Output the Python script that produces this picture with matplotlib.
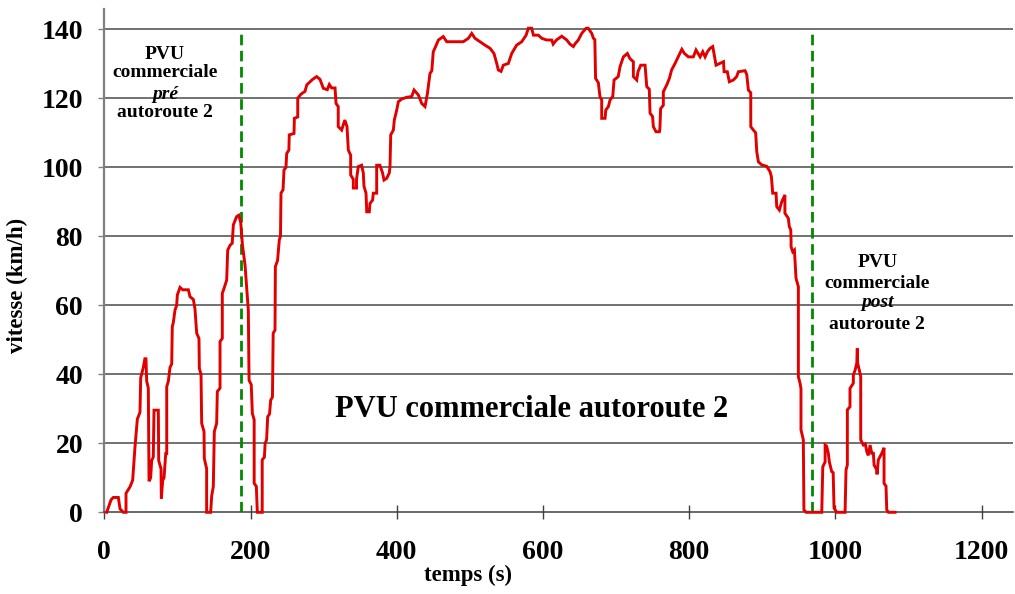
import matplotlib
matplotlib.use("Agg")
import matplotlib.pyplot as plt

# ---- data ----
time_s = [3.3, 9.2, 12.3, 19.2, 21.5, 26, 29.7, 29.7, 35.2, 38.8, 42, 45.2, 48.8, 49.8, 53.4, 55.5, 57, 58,
          60.2, 61.2, 63.4, 64.8, 67, 68, 73.9, 74.4, 77.6, 78, 79.9, 81.7, 84, 85.4, 85.4, 87.6, 89.9, 92.2,
          93, 94.4, 96.7, 99, 99.9, 103.6, 107.2, 115, 117.2, 121.8, 124, 126.4, 129.5, 130, 132.3, 133.2,
          136.4, 136.8, 140, 140, 145.5, 146.9, 149.1, 150.5, 153.7, 154.6, 158.3, 158.3, 161.4, 161.4, 163,
          167.4, 168.8, 172, 175, 176.5, 181, 184, 186.6, 189, 192.5, 197, 198, 201, 202.5, 205, 205, 208,
          209.3, 216, 216, 219, 220, 222, 223.5, 226, 227.6, 230, 231, 233.5, 234, 237, 239.4, 241, 241.7,
          244.5, 245.8, 248.5, 249.5, 252.5, 253, 259.5, 260, 264.6, 264.6, 269, 274.5, 277, 281.5, 285,
          290.5, 295, 299.6, 305, 307.8, 311, 315.6, 317, 320, 320, 324.7, 329, 332, 333.8, 337, 337, 340.6,
          340.6, 345, 345, 347.4, 351.9, 354.3, 355.2, 358, 359, 362.5, 363.4, 367, 368, 372.6, 372.6, 377,
          380.6, 382.6, 386.3, 389.9, 390.8, 391.8, 395.4, 396.7, 400, 402.2, 406.8, 413.7, 420.5, 423.7,
          429.5, 434.2, 438.7, 442, 445.5, 448, 450, 453, 457, 463.7, 468.4, 491, 498, 502.6, 507, 514,
          520.8, 527.6, 533, 536.8, 539, 542.7, 545.8, 552.7, 557.3, 564, 571, 577, 580, 584.6, 587, 593.7,
          598.3, 605, 612, 614, 618.5, 625.7, 632.6, 637, 641.6, 644, 648.4, 653, 659, 662, 666.8, 669, 671,
          672, 675.8, 678, 680.4, 680.4, 685, 686, 689.5, 691.8, 695.5, 697.3, 703, 705.5, 710, 715.5, 719,
          723.7, 723.7, 728.3, 730, 733.8, 739.7, 742, 745.5, 746.5, 750, 751, 754.7, 759.3, 760, 761,
          764.7, 764.7, 769.4, 773, 776, 780.7, 785, 790, 793.5, 799, 805.7, 809.4, 815, 818.6, 821.8, 825,
          828.6, 832.3, 834, 836.8, 842, 847, 847.8, 852.2, 855, 860.5, 865, 867.3, 876.5, 878.8, 881,
          884.3, 884.3, 887.8, 891, 892.5, 894.7, 899.3, 906, 910.7, 912.5, 914.3, 918.9, 919.8, 923.4,
          926.6, 931, 931, 935.7, 937, 939, 939.4, 939.4, 941.7, 944, 946.2, 949.4, 949.4, 951.7, 953, 953,
          956.2, 957, 960, 981.4, 982.8, 986, 986, 988, 990.4, 991.8, 995, 997, 998.2, 1002, 1013.3, 1014.6,
          1016.4, 1016.4, 1020, 1020, 1024.6, 1024.6, 1027, 1029.3, 1030, 1030.5, 1032.8, 1034.7, 1034.7,
          1038.3, 1041, 1043, 1045, 1047.5, 1049.8, 1052, 1053, 1056.6, 1057, 1058.8, 1063.5, 1066.6,
          1066.6, 1069.3, 1070.3, 1072.5, 1081.7]
speed_kmh = [0, 3.6, 4.3, 4.3, 1, 0, 0, 5.5, 7.4, 9.3, 19, 27, 29, 39, 42, 44.5, 44.5, 38,
             36, 9, 10, 15, 16, 29.6, 29.6, 15, 12.6, 4, 9.3, 10, 17, 17, 36.4, 38, 42, 43,
             53.8, 55, 58.6, 60, 63, 65.2, 64.5, 64.5, 62.5, 61.7, 59, 51.9, 50.4, 41.7, 40, 25.8,
             23.4, 15.6, 12.6, 0, 0, 4.8, 7.4, 23.4, 25.8, 35, 36, 49.5, 50.4, 63.5, 64.4,
             67.3, 76, 77.4, 78, 83.3, 85.7, 86.1, 84, 77.4, 71.7, 58.6, 38.3, 37, 28.7, 26.8, 8.4, 7.5,
             0, 0, 15.2, 16, 20, 21, 27.7, 28.5, 32.5, 33.4, 51.9, 52.8, 71.2, 73, 79, 80, 92.5,
             93.5, 99.2, 100, 104, 105, 109.4, 109.8, 114.2, 114.6, 120, 121.2, 122, 123.9, 124.8, 125.5,
             126.3, 125.5, 122.9, 122.5, 124, 123, 123, 118.5, 117.6, 111.8, 110.8, 113.7, 111.8, 105, 103.5, 97.8, 96.5,
             94, 94, 96.5, 100.2, 100.6, 98.4, 94.5, 92.5, 87.1, 87.1, 89.5, 90.5, 92.5, 92.5, 100.6, 100.6,
             98.4, 96.3, 96.8, 98.4, 100.2, 109.4, 110.8, 113.7, 116.6, 119, 119.8, 120.3, 120.5, 122.4,
             121, 118.5, 117.6, 121.4, 127.2, 128, 133.5, 134.9, 136.9, 137.9, 136.4, 136.4, 137.4, 138.8, 137.4, 136.4,
             135.4, 134.5, 133, 130.1, 128.2, 127.8, 129.6, 130.1, 133, 135.4, 136.4, 138.3, 140.3, 140.3, 138.3, 138.3,
             137.4, 136.9, 136.9, 135.7, 136.9, 138, 136.9, 135.7, 135, 135.8, 136.9, 138.8, 140.3, 140.3, 138.8, 137.4, 137,
             125.8, 124.5, 120.5, 119.5, 114.2, 114.2, 116.6, 117.6, 119.5, 120.5, 125.3, 126.3, 129.2, 132, 133, 131.5,
             130.6, 126.3, 125.3, 127.7, 129.6, 129.6, 123.4, 122.6, 115.7, 114.7, 111.8, 110.3, 110.3, 111.3, 117,
             118, 121.9, 123.9, 125.8, 128.2, 130.1, 132, 134.2, 133, 132, 132, 134, 132, 133.5, 132, 133.5,
             134.5, 135, 133, 129.6, 130.1, 130.6, 127.7, 127.7, 124.8, 125.3, 126.3, 127.7, 128, 126.9, 122.4,
             121.6, 111.8, 110.8, 110, 104.5, 101.6, 100.7, 100.3, 98.7, 97.3, 92.5, 92.5, 88.6, 87.6,
             90, 92, 86.7, 85.2, 82.8, 81.9, 78.9, 77, 75.5, 76, 67.8, 65.4, 39.3, 37.4, 35.8, 23.9,
             21, 0.7, 0, 0, 13.2, 14.6, 19.5, 19.2, 17.1, 14.6, 11.8, 11.5, 1.2, 0, 0, 12.3,
             13.7, 29.7, 30.6, 35.9, 37.4, 39.8, 41.2, 43.2, 47.5, 43.2, 41.2, 39.3, 21,
             19.5, 19.8, 17.6, 16.5, 19.5, 17.1, 17.1, 13.7, 12.3, 11, 15.2, 17.1, 18.7,
             8.4, 7.6, 0.7, 0, 0]

x_ticks = [0, 200, 400, 600, 800, 1000, 1200]
y_ticks = [0, 20, 40, 60, 80, 100, 120, 140]
phase_limits = [187, 968]

pre_lines = ["PVU", "commerciale", "pré", "autoroute 2"]
post_lines = ["PVU", "commerciale", "post", "autoroute 2"]
main_label = "PVU commerciale autoroute 2"

# ---- figure ----
FONT = "Liberation Serif"
plt.rcParams["font.family"] = [FONT, "DejaVu Serif"]
plt.rcParams["font.weight"] = "bold"

fig = plt.figure(figsize=(10.15, 5.94), dpi=100)
W, H = 1015, 594
x0, x1, y0, y1 = 104.3, 1013, 512.3, 8.6
ax = fig.add_axes([x0 / W, (H - y0) / H, (x1 - x0) / W, (y0 - y1) / H])

ax.set_xlim(0, 1243)
ax.set_ylim(0, 146)

for yv in y_ticks[1:]:
    ax.axhline(yv, color="#4a4a4a", lw=1.1, zorder=1)

ax.plot(time_s, speed_kmh, color="#e00000", lw=2.1, zorder=4, solid_joinstyle="miter",
        clip_on=False)

for xv in phase_limits:
    ax.plot([xv, xv], [0, 140], color="#008a00", lw=2.0, ls=(0, (3.8, 2.0)), zorder=3)

for s in ["top", "right"]:
    ax.spines[s].set_visible(False)
ax.spines["left"].set_color("#808080")
ax.spines["left"].set_linewidth(1.6)
ax.spines["bottom"].set_color("#404040")
ax.spines["bottom"].set_linewidth(1.1)

ax.set_xticks(x_ticks)
ax.set_yticks(y_ticks)
ax.set_xticklabels([str(v) for v in x_ticks])
ax.set_yticklabels([str(v) for v in y_ticks])
ax.tick_params(axis="x", direction="inout", length=9.6, width=1.0, color="#404040",
               pad=15, labelsize=20)
ax.tick_params(axis="y", direction="out", length=4.3, width=1.0, color="#808080",
               pad=11, labelsize=20)
for lab in ax.get_xticklabels() + ax.get_yticklabels():
    lab.set_fontweight("bold")

ax.set_xlabel("temps (s)", fontsize=16.4, fontweight="bold", labelpad=1)
ax.xaxis.set_label_coords(0.40, -0.105)
ax.set_ylabel("vitesse (km/h)", fontsize=16.5, fontweight="bold", labelpad=5)
ax.yaxis.set_label_coords(-0.084, 0.451)

# annotations
pre_y = [131.3, 126.1, 119.8, 114.5]
for txt, yv in zip(pre_lines, pre_y):
    ax.text(83, yv, txt, ha="center", va="baseline", fontsize=14, fontweight="bold",
            style="italic" if txt == "pré" else "normal", zorder=5)

post_y = [71.2, 64.9, 59.6, 53.1]
for txt, yv in zip(post_lines, post_y):
    ax.text(1057.5, yv, txt, ha="center", va="baseline", fontsize=14, fontweight="bold",
            style="italic" if txt == "post" else "normal", zorder=5)

ax.text(584, 27.7, main_label, ha="center", va="baseline", fontsize=22, fontweight="bold", zorder=5)

fig.savefig("out.png", dpi=100)
